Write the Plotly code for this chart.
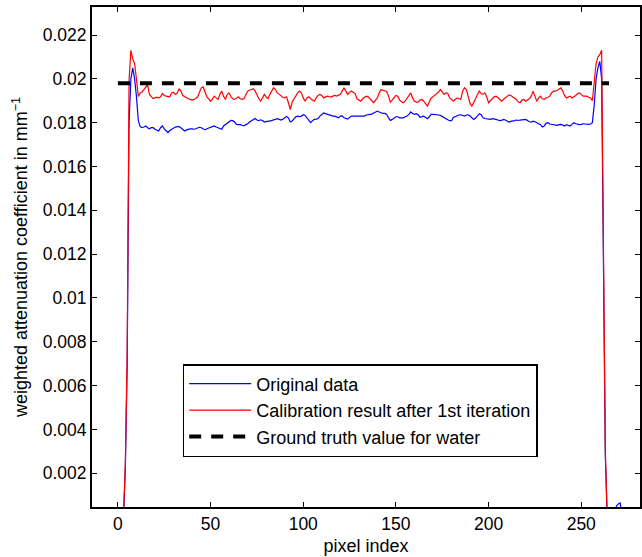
import plotly.graph_objects as go

# Profile across a water phantom: pixel index along the detector row
pixel_index = list(range(1, 273))

# Weighted attenuation coefficient (mm^-1) of the uncorrected reconstruction
original_data = [
    0.0, 0.0, 0.0, 0.0022, 0.0070, 0.0180, 0.0200, 0.0205, 0.0200, 0.0192,
    0.0181, 0.01782, 0.01777, 0.01780, 0.01785, 0.01777, 0.01772, 0.01777, 0.01777, 0.01770,
    0.01764, 0.01762, 0.01777, 0.01785, 0.01772, 0.01764, 0.01755, 0.01764, 0.01770, 0.01777,
    0.01780, 0.01782, 0.01782, 0.01777, 0.01770, 0.01762, 0.01767, 0.01770, 0.01772, 0.01772,
    0.01770, 0.01772, 0.01777, 0.01779, 0.01777, 0.01770, 0.01767, 0.01772, 0.01776, 0.01777,
    0.01782, 0.01785, 0.01780, 0.01777, 0.01772, 0.01770, 0.01785, 0.01792, 0.01800, 0.01806,
    0.01810, 0.01809, 0.01803, 0.01792, 0.01792, 0.01791, 0.01788, 0.01785, 0.01791, 0.01795,
    0.01803, 0.01809, 0.01815, 0.01819, 0.01812, 0.01809, 0.01813, 0.01810, 0.01803, 0.01806,
    0.01807, 0.01807, 0.01809, 0.01813, 0.01816, 0.01818, 0.01815, 0.01812, 0.01816, 0.01822,
    0.01828, 0.01822, 0.01803, 0.01807, 0.01819, 0.01827, 0.01830, 0.01828, 0.01830, 0.01836,
    0.01833, 0.01822, 0.01809, 0.01800, 0.01809, 0.01815, 0.01816, 0.01819, 0.01830, 0.01839,
    0.01844, 0.01841, 0.01838, 0.01833, 0.01830, 0.01830, 0.01830, 0.01825, 0.01822, 0.01830,
    0.01831, 0.01822, 0.01818, 0.01816, 0.01824, 0.01830, 0.01830, 0.01830, 0.01833, 0.01833,
    0.01833, 0.01831, 0.01830, 0.01835, 0.01838, 0.01838, 0.01839, 0.01844, 0.01849, 0.01853,
    0.01849, 0.01845, 0.01842, 0.01842, 0.01838, 0.01822, 0.01810, 0.01815, 0.01822, 0.01827,
    0.01827, 0.01822, 0.01822, 0.01822, 0.01827, 0.01830, 0.01838, 0.01849, 0.01842, 0.01838,
    0.01841, 0.01836, 0.01824, 0.01827, 0.01830, 0.01824, 0.01818, 0.01827, 0.01838, 0.01838,
    0.01838, 0.01838, 0.01835, 0.01833, 0.01827, 0.01821, 0.01818, 0.01813, 0.01809, 0.01809,
    0.01824, 0.01828, 0.01830, 0.01835, 0.01836, 0.01833, 0.01830, 0.01835, 0.01836, 0.01830,
    0.01821, 0.01815, 0.01821, 0.01830, 0.01841, 0.01836, 0.01822, 0.01819, 0.01818, 0.01815,
    0.01815, 0.01818, 0.01818, 0.01815, 0.01812, 0.01809, 0.01810, 0.01815, 0.01812, 0.01806,
    0.01803, 0.01806, 0.01806, 0.01809, 0.01812, 0.01810, 0.01812, 0.01813, 0.01815, 0.01815,
    0.01810, 0.01804, 0.01803, 0.01807, 0.01804, 0.01800, 0.01797, 0.01791, 0.01780, 0.01785,
    0.01797, 0.01800, 0.01794, 0.01792, 0.01792, 0.01791, 0.01788, 0.01791, 0.01792, 0.01789,
    0.01785, 0.01791, 0.01788, 0.01785, 0.01792, 0.01800, 0.01795, 0.01792, 0.01791, 0.01792,
    0.01795, 0.01794, 0.01792, 0.01792, 0.01794, 0.01800, 0.01880, 0.02000, 0.02050, 0.02080,
    0.02000, 0.01150, 0.00280, 0.0, 0.0, 0.0, 0.0, 0.00030, 0.00050, 0.00060,
    0.00065, 0.0,
]

# Same profile after the first calibration iteration
calibrated_data = [
    0.0, 0.0, 0.0, 0.0024, 0.0075, 0.0199, 0.0213, 0.0209, 0.0207, 0.0200,
    0.01920, 0.01936, 0.01940, 0.01951, 0.01966, 0.01974, 0.01929, 0.01918, 0.01910, 0.01913,
    0.01916, 0.01913, 0.01918, 0.01933, 0.01924, 0.01921, 0.01918, 0.01918, 0.01936, 0.01939,
    0.01929, 0.01936, 0.01954, 0.01944, 0.01924, 0.01918, 0.01913, 0.01909, 0.01906, 0.01903,
    0.01906, 0.01910, 0.01918, 0.01936, 0.01959, 0.01963, 0.01936, 0.01918, 0.01909, 0.01898,
    0.01909, 0.01921, 0.01913, 0.01906, 0.01929, 0.01944, 0.01921, 0.01906, 0.01929, 0.01936,
    0.01918, 0.01909, 0.01906, 0.01913, 0.01918, 0.01909, 0.01906, 0.01909, 0.01924, 0.01944,
    0.01948, 0.01951, 0.01955, 0.01945, 0.01925, 0.01910, 0.01898, 0.01913, 0.01929, 0.01918,
    0.01909, 0.01929, 0.01948, 0.01959, 0.01951, 0.01936, 0.01929, 0.01921, 0.01916, 0.01913,
    0.01918, 0.01891, 0.01860, 0.01894, 0.01909, 0.01921, 0.01936, 0.01944, 0.01936, 0.01913,
    0.01898, 0.01913, 0.01918, 0.01909, 0.01903, 0.01898, 0.01913, 0.01924, 0.01929, 0.01924,
    0.01913, 0.01918, 0.01921, 0.01919, 0.01918, 0.01921, 0.01924, 0.01921, 0.01924, 0.01929,
    0.01944, 0.01959, 0.01944, 0.01929, 0.01939, 0.01944, 0.01939, 0.01933, 0.01909, 0.01903,
    0.01898, 0.01909, 0.01916, 0.01921, 0.01918, 0.01909, 0.01903, 0.01891, 0.01903, 0.01913,
    0.01936, 0.01951, 0.01948, 0.01944, 0.01942, 0.01921, 0.01894, 0.01903, 0.01913, 0.01924,
    0.01921, 0.01903, 0.01895, 0.01891, 0.01899, 0.01912, 0.01924, 0.01936, 0.01913, 0.01898,
    0.01894, 0.01894, 0.01903, 0.01906, 0.01898, 0.01888, 0.01876, 0.01894, 0.01913, 0.01918,
    0.01924, 0.01929, 0.01939, 0.01951, 0.01939, 0.01929, 0.01936, 0.01933, 0.01913, 0.01906,
    0.01899, 0.01906, 0.01913, 0.01909, 0.01906, 0.01944, 0.01959, 0.01951, 0.01913, 0.01888,
    0.01876, 0.01891, 0.01909, 0.01929, 0.01944, 0.01933, 0.01929, 0.01936, 0.01918, 0.01891,
    0.01898, 0.01909, 0.01918, 0.01921, 0.01915, 0.01906, 0.01898, 0.01906, 0.01913, 0.01924,
    0.01927, 0.01924, 0.01918, 0.01910, 0.01906, 0.01894, 0.01891, 0.01903, 0.01906, 0.01898,
    0.01903, 0.01909, 0.01921, 0.01944, 0.01921, 0.01898, 0.01913, 0.01921, 0.01909, 0.01906,
    0.01913, 0.01915, 0.01921, 0.01936, 0.01944, 0.01944, 0.01948, 0.01954, 0.01959, 0.01944,
    0.01924, 0.01913, 0.01918, 0.01921, 0.01913, 0.01918, 0.01924, 0.01933, 0.01936, 0.01929,
    0.01921, 0.01921, 0.01921, 0.01916, 0.01913, 0.01900, 0.01980, 0.02070, 0.02100, 0.02110,
    0.02130, 0.01250, 0.00300, 0.0, 0.0, 0.0, 0.0, 0.0, 0.0, 0.0,
    0.0, 0.0,
]

# Reference value for water and the pixel span it is drawn over
water_truth = 0.0198
truth_span = [0, 265]

x_ticks = [0, 50, 100, 150, 200, 250]
y_ticks = [0.002, 0.004, 0.006, 0.008, 0.01, 0.012, 0.014, 0.016, 0.018, 0.02, 0.022]
y_tick_labels = ["0.002", "0.004", "0.006", "0.008", "0.01", "0.012",
                 "0.014", "0.016", "0.018", "0.02", "0.022"]

assert len(original_data) == len(pixel_index) == len(calibrated_data)

FONT = "Liberation Sans, Arial, Helvetica, sans-serif"

fig = go.Figure()
fig.add_trace(go.Scatter(
    x=pixel_index, y=original_data, mode="lines", name="Original data",
    line=dict(color="#0000ff", width=1.2),
))
fig.add_trace(go.Scatter(
    x=pixel_index, y=calibrated_data, mode="lines",
    name="Calibration result after 1st iteration",
    line=dict(color="#ff0000", width=1.2),
))
fig.add_trace(go.Scatter(
    x=truth_span, y=[water_truth] * len(truth_span), mode="lines",
    name="Ground truth value for water",
    line=dict(color="black", width=4, dash="12px,10px"),
))

axis_common = dict(
    showgrid=False, zeroline=False, showline=True, linecolor="black",
    linewidth=2, mirror="ticks", ticks="inside", ticklen=5, tickwidth=1,
    tickcolor="black", tickfont=dict(family=FONT, size=17.5, color="black"),
)

fig.update_xaxes(
    range=[-13.98, 281.7], tickvals=x_ticks,
    title=dict(text="pixel index", font=dict(family=FONT, size=18, color="black"),
               standoff=6),
    **axis_common,
)
fig.update_yaxes(
    range=[0.000462, 0.023278], tickvals=y_ticks, ticktext=y_tick_labels,
    title=dict(text="weighted attenuation coefficient in mm<sup>\u22121</sup>",
               font=dict(family=FONT, size=18, color="black"), standoff=10),
    **axis_common,
)

fig.update_layout(
    width=642, height=557,
    margin=dict(l=92, r=0, t=7, b=50),
    plot_bgcolor="white", paper_bgcolor="white",
    font=dict(family=FONT, color="black"),
    showlegend=True,
    legend=dict(
        x=0.1655, y=0.286, xanchor="left", yanchor="top",
        bgcolor="white", bordercolor="black", borderwidth=1.5,
        font=dict(family=FONT, size=18, color="black"),
        itemwidth=62,
    ),
)

fig.write_html("out.html")
